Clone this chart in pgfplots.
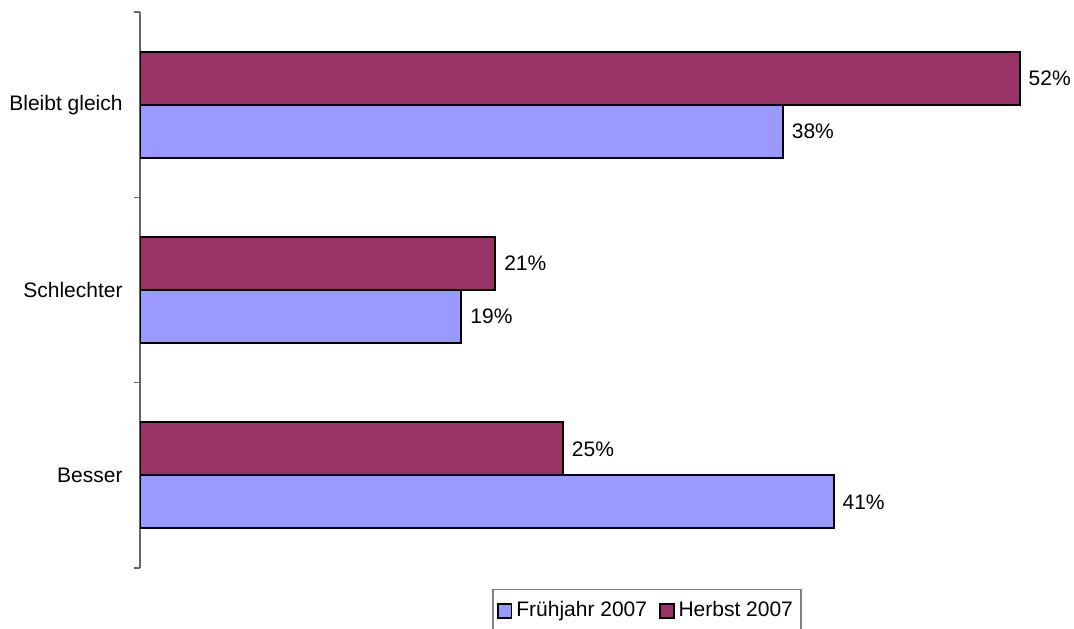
\documentclass[border=0pt]{standalone}
\usepackage{fontspec}
\setmainfont{Liberation Sans}
\usepackage{pgfplots}
\pgfplotsset{compat=1.18}

\definecolor{herbst}{HTML}{993366}
\definecolor{fruehjahr}{HTML}{9999FF}

\begin{document}
\fontsize{10.5}{12.5}\selectfont
\begin{tikzpicture}[x=0.5pt,y=0.5pt]
\useasboundingbox (0,0) rectangle (1074,628);
\begin{axis}[
    at={(70pt,30pt)}, anchor=south west,
    scale only axis,
    width=450pt, height=278pt,
    xbar=0pt, bar width=26.5pt,
    xmin=0, xmax=53.2,
    ymin=-0.5, ymax=2.5,
    enlargelimits=false,
    axis x line=none,
    axis y line=left,
    y axis line style={-, draw=gray!80!black, line width=0.6pt},
    ytick={0,1,2},
    yticklabels={Besser, Schlechter, Bleibt gleich},
    minor ytick={-0.5,0.5,1.5,2.5},
    major tick length=0pt,
    minor tick length=3pt,
    tick align=outside,
    minor tick style={draw=gray!80!black, line width=0.6pt},
    yticklabel style={font=\fontsize{10.5}{12.5}\selectfont, xshift=-5pt},
    /pgf/number format/assume math mode=true,
    nodes near coords={\pgfmathprintnumber{\pgfplotspointmeta}\%},
    nodes near coords style={font=\fontsize{10.5}{12.5}\selectfont, anchor=west, inner sep=4pt, text=black},
    legend style={at={(0.5633,-0.0378)}, anchor=north, legend columns=2,
        draw=gray, line width=0.6pt, font=\fontsize{10.5}{12.5}\selectfont,
        inner ysep=4pt, inner xsep=2pt,
        /tikz/every even column/.append style={column sep=4pt}},
    legend image code/.code={\draw[#1, line width=0.9pt] (1pt,-3.4pt) rectangle (7.8pt,3.4pt);},
]
\addplot[fill=fruehjahr, draw=black, line width=1pt] coordinates {(41,0) (19,1) (38,2)};
\addplot[fill=herbst, draw=black, line width=1pt] coordinates {(25,0) (21,1) (52,2)};
\legend{Frühjahr 2007, Herbst 2007}
\end{axis}
\end{tikzpicture}
\end{document}
